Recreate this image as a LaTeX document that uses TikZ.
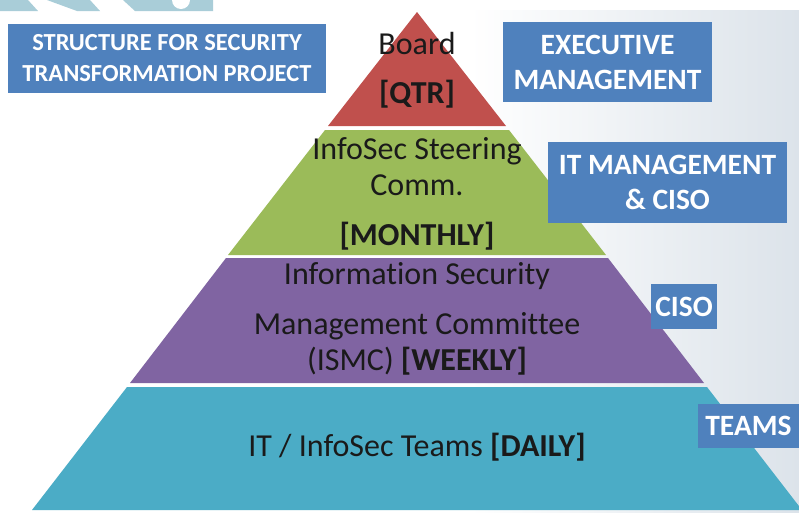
\documentclass[tikz,border=0pt]{standalone}
\usepackage{fontspec}
\setmainfont{Carlito}[Ligatures=NoCommon]
\definecolor{lred}{HTML}{C0504D}
\definecolor{lgreen}{HTML}{9BBB59}
\definecolor{lpurple}{HTML}{8064A2}
\definecolor{lteal}{HTML}{4BACC6}
\definecolor{boxblue}{HTML}{4F81BD}
\definecolor{txt}{HTML}{1A1A1A}
\definecolor{bgtex}{HTML}{DCE3EA}
\definecolor{wmark}{HTML}{A9CDD8}
\begin{document}
\begin{tikzpicture}[x=1pt,y=-1pt,
  lbl/.style={text=txt,font=\fontsize{32}{36}\selectfont,inner sep=0pt,anchor=center},
  lblb/.style={lbl,font=\fontsize{32}{36}\selectfont\bfseries},
  bluebox/.style={fill=boxblue,text=white,align=center,inner sep=0pt,anchor=center,font=\fontsize{29.5}{35}\selectfont\bfseries}]
\fill[white] (0,0) rectangle (799,512);
\useasboundingbox (0,0) rectangle (799,512);
% background texture on the right
\shade[left color=white,right color=bgtex] (470,10) rectangle (799,512);
% watermark stripes top-left
\fill[wmark] (0,0) -- (28,0) -- (38,11) -- (0,11) -- cycle;
\fill[wmark] (47,0) -- (90,0) -- (100,11) -- (77,11) -- cycle;
\fill[wmark] (123,0) -- (213,0) -- (213,11) -- (135,11) -- cycle;
\fill[white] (181,0) circle[radius=9];
% pyramid layers (center 417, half width = 0.77*(y-10))
\fill[lred] (417,12) -- (506,126) -- (328,126) -- cycle;
\fill[lgreen] (325,130) -- (509,130) -- (606,255) -- (228,255) -- cycle;
\fill[lpurple] (226,258) -- (608,258) -- (704,383) -- (130,383) -- cycle;
\fill[lteal] (127,387) -- (707,387) -- (802,510) -- (32,510) -- cycle;
% layer texts
\node[lbl] (board) at (417,44) {Board};
\node[lblb] (qtr) at (417,94) {[QTR]};
\node[lbl] (steer) at (417,151) {InfoSec Steering};
\node[lbl] (comm) at (417,185) {Comm.};
\node[lblb] (monthly) at (417,236) {[MONTHLY]};
\node[lbl] (info) at (417,276) {Information Security};
\node[lbl] (mgmt) at (417,326) {Management Committee};
\node[lbl] (ismc) at (417,361) {(ISMC) \textbf{[WEEKLY]}};
\node[lbl] (teams) at (417,447) {IT / InfoSec Teams \textbf{[DAILY]}};
% blue boxes
\node[bluebox,minimum width=318pt,minimum height=69pt,font=\fontsize{24.5}{31}\selectfont\bfseries] (title) at (167,58.5) {STRUCTURE FOR SECURITY\\TRANSFORMATION PROJECT};
\node[bluebox,minimum width=209pt,minimum height=80pt] (exec) at (607.5,62) {EXECUTIVE\\MANAGEMENT};
\node[bluebox,minimum width=239pt,minimum height=81pt] (itm) at (667.5,182.5) {IT MANAGEMENT\\\&{} CISO};
\node[bluebox,minimum width=66pt,minimum height=45pt] (ciso) at (684,306.5) {CISO};
\node[bluebox,minimum width=101pt,minimum height=44pt] (tm) at (748.5,426) {TEAMS};
\end{tikzpicture}
\end{document}
